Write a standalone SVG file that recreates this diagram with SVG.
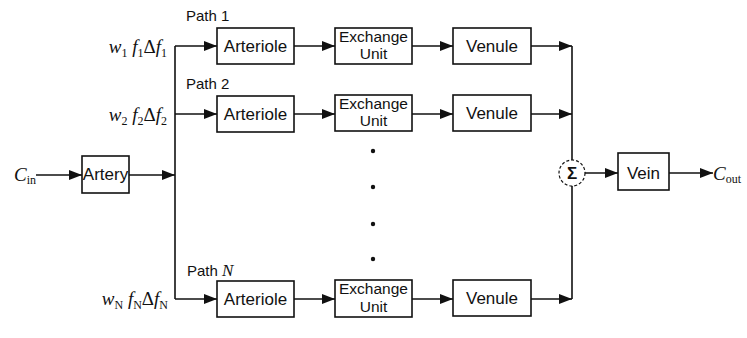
<svg xmlns="http://www.w3.org/2000/svg" width="747" height="338" viewBox="0 0 747 338">
<defs>
<marker id="ah" markerUnits="userSpaceOnUse" markerWidth="13" markerHeight="10" refX="13" refY="5" orient="auto">
<path d="M0,0 L13,5 L0,10 z" fill="#111"/>
</marker>
<style>
.box{fill:#fff;stroke:#111;stroke-width:1.6}
.lbl{font-family:"Liberation Sans",Arial,sans-serif;font-size:17px;fill:#111;text-anchor:middle}
.ex{font-family:"Liberation Sans",Arial,sans-serif;font-size:15.5px;fill:#111;text-anchor:middle}
.path{font-family:"Liberation Sans",Arial,sans-serif;font-size:15px;fill:#111}
.math{font-family:"Liberation Serif","Times New Roman",serif;font-size:19px;font-style:italic;fill:#111}
.sub{font-size:12px}
.up{font-style:normal}
.ln{fill:none;stroke:#111;stroke-width:1.6}
.ar{fill:none;stroke:#111;stroke-width:1.6;marker-end:url(#ah)}
.dot{fill:#111}
</style>
</defs>
<rect width="747" height="338" fill="#fff"/>

<g id="connectors">
<line class="ar" x1="36" y1="175" x2="82" y2="175"/>
<line class="ar" x1="129" y1="175" x2="175" y2="175"/>
<line class="ln" x1="175" y1="46" x2="175" y2="299"/>
<line class="ar" x1="175" y1="46" x2="217" y2="46"/>
<line class="ar" x1="175" y1="114" x2="217" y2="114"/>
<line class="ar" x1="175" y1="299" x2="217" y2="299"/>
<line class="ar" x1="294" y1="46" x2="335" y2="46"/>
<line class="ar" x1="294" y1="114" x2="335" y2="114"/>
<line class="ar" x1="294" y1="299" x2="335" y2="299"/>
<line class="ar" x1="412" y1="46" x2="453" y2="46"/>
<line class="ar" x1="412" y1="114" x2="453" y2="114"/>
<line class="ar" x1="412" y1="299" x2="453" y2="299"/>
<line class="ar" x1="531" y1="46" x2="572" y2="46"/>
<line class="ar" x1="531" y1="114" x2="572" y2="114"/>
<line class="ar" x1="531" y1="299" x2="572" y2="299"/>
<line class="ln" x1="572" y1="46" x2="572" y2="160"/>
<line class="ln" x1="572" y1="186" x2="572" y2="299"/>
<line class="ar" x1="585" y1="173" x2="618" y2="173"/>
<line class="ar" x1="669" y1="173" x2="713" y2="173"/>
</g>

<g id="cin"><text class="math" x="14" y="181" font-size="19">C<tspan class="sub" dy="3" font-style="normal">in</tspan></text></g>
<g id="artery"><rect class="box" x="82" y="156" width="47" height="37"/><text class="lbl" x="105.5" y="180" font-size="16">Artery</text></g>

<g id="labels">
<text class="path" x="186" y="21">Path 1</text>
<text class="path" x="186" y="89">Path 2</text>
<text class="path" x="187" y="276">Path <tspan font-style="italic" font-family="Liberation Serif, serif" font-size="17">N</tspan></text>
<text class="math" x="167" y="53" text-anchor="end">w<tspan class="sub up" dy="4">1</tspan><tspan dy="-4"> f</tspan><tspan class="sub up" dy="4">1</tspan><tspan class="up" dy="-4">Δ</tspan>f<tspan class="sub up" dy="4">1</tspan></text>
<text class="math" x="167" y="121" text-anchor="end">w<tspan class="sub up" dy="4">2</tspan><tspan dy="-4"> f</tspan><tspan class="sub up" dy="4">2</tspan><tspan class="up" dy="-4">Δ</tspan>f<tspan class="sub up" dy="4">2</tspan></text>
<text class="math" x="168" y="305" text-anchor="end">w<tspan class="sub up" dy="4">N</tspan><tspan dy="-4"> f</tspan><tspan class="sub up" dy="4">N</tspan><tspan class="up" dy="-4">Δ</tspan>f<tspan class="sub up" dy="4">N</tspan></text>
</g>

<g id="arteriole1"><rect class="box" x="217" y="28" width="77" height="36"/><text class="lbl" x="255.5" y="52">Arteriole</text></g>
<g id="exchange1"><rect class="box" x="335" y="28" width="77" height="36"/><text class="ex" x="373.5" y="41.5">Exchange</text><text class="ex" x="373.5" y="59">Unit</text></g>
<g id="venule1"><rect class="box" x="453" y="28" width="78" height="36"/><text class="lbl" x="492" y="52">Venule</text></g>

<g id="arteriole2"><rect class="box" x="217" y="96" width="77" height="36"/><text class="lbl" x="255.5" y="120">Arteriole</text></g>
<g id="exchange2"><rect class="box" x="335" y="95" width="77" height="36"/><text class="ex" x="373.5" y="108.5">Exchange</text><text class="ex" x="373.5" y="126">Unit</text></g>
<g id="venule2"><rect class="box" x="453" y="95" width="78" height="36"/><text class="lbl" x="492" y="119">Venule</text></g>

<g id="arterioleN"><rect class="box" x="217" y="281" width="77" height="36"/><text class="lbl" x="255.5" y="305">Arteriole</text></g>
<g id="exchangeN"><rect class="box" x="335" y="280" width="77" height="37"/><text class="ex" x="373.5" y="294">Exchange</text><text class="ex" x="373.5" y="311.5">Unit</text></g>
<g id="venuleN"><rect class="box" x="453" y="280" width="78" height="36"/><text class="lbl" x="492" y="304">Venule</text></g>

<g id="dots">
<circle class="dot" cx="373" cy="151" r="2.2"/>
<circle class="dot" cx="373" cy="187" r="2.2"/>
<circle class="dot" cx="373" cy="224" r="2.2"/>
<circle class="dot" cx="373" cy="259" r="2.2"/>
</g>

<g id="sum"><circle cx="572" cy="173" r="13" fill="#fff" stroke="#111" stroke-width="1.2" stroke-dasharray="3 2"/><text class="lbl" x="572" y="179" font-size="18" font-weight="bold" font-family="Liberation Serif, serif">Σ</text></g>
<g id="vein"><rect class="box" x="618" y="153" width="51" height="37"/><text class="lbl" x="643.5" y="179">Vein</text></g>
<g id="cout"><text class="math" x="713" y="180" font-size="19">C<tspan class="sub" dy="3" font-style="normal">out</tspan></text></g>
</svg>
